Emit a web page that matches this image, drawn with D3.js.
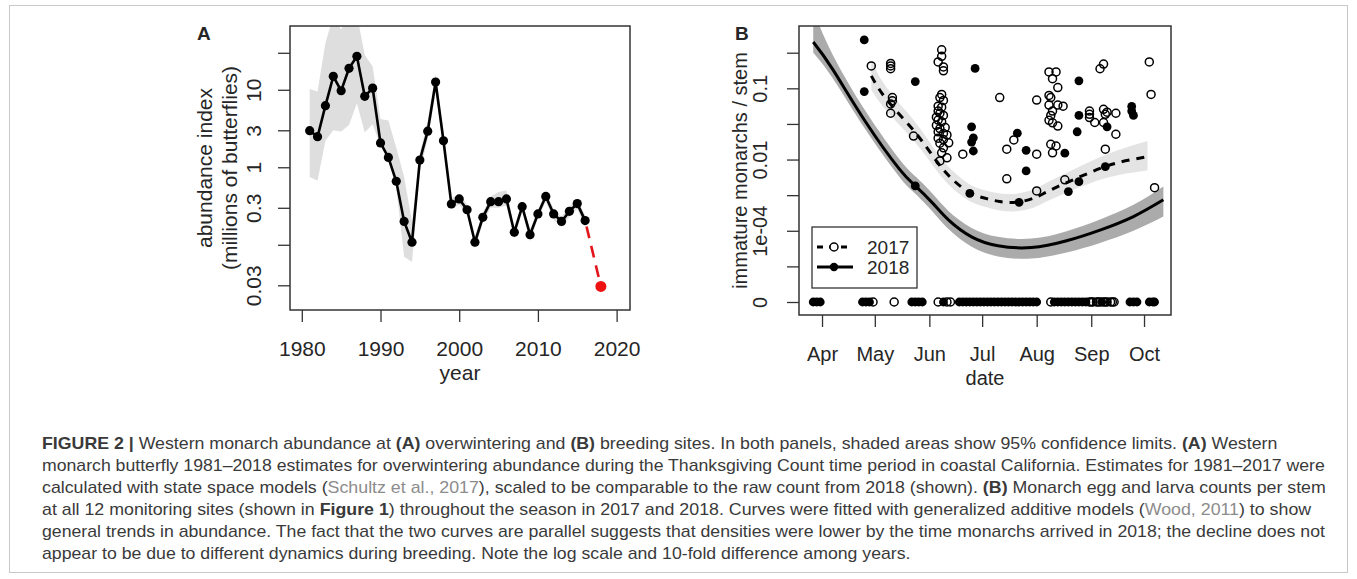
<!DOCTYPE html>
<html>
<head>
<meta charset="utf-8">
<script src="https://cdn.jsdelivr.net/npm/d3@7"></script>
<style>
  body { margin: 0; background: #fff; }
  svg text { font-family: "Liberation Sans", Arial, sans-serif; fill: #262626; }
  .cap { white-space: pre; }
</style>
</head>
<body>
<svg id="fig" width="1357" height="579"></svg>
<script>
// ---------- Panel A: overwintering abundance (millions) ----------
const yearsA = [1981,1982,1983,1984,1985,1986,1987,1988,1989,1990,1991,1992,1993,1994,1995,1996,1997,1998,
  1999,2000,2001,2002,2003,2004,2005,2006,2007,2008,2009,2010,2011,2012,2013,2014,2015,2016];
const abundA = [2.97,2.48,6.24,14.9,9.72,18.9,27.0,8.24,10.5,2.06,1.34,0.66,0.20,0.108,1.24,2.92,12.6,2.2,
  0.336,0.39,0.283,0.108,0.226,0.36,0.36,0.39,0.145,0.31,0.135,0.25,0.42,0.25,0.20,0.27,0.34,0.205];
const hiA = [10.2,9.5,40,90,60,95,95,28,20,4.2,4.0,1.8,0.75,0.2,1.5,4.0,16,2.8,
  0.4,0.45,0.33,0.13,0.26,0.42,0.48,0.5,0.17,0.35,0.16,0.28,0.48,0.29,0.23,0.31,0.39,0.24];
const loA = [0.75,0.67,2.2,3.0,2.9,3.5,6.7,2.8,3.6,1.9,1.2,0.55,0.07,0.06,0.9,2.3,9,1.8,
  0.29,0.33,0.24,0.09,0.19,0.3,0.3,0.32,0.12,0.27,0.11,0.22,0.36,0.21,0.17,0.23,0.29,0.17];
const rawYear = 2018;
const rawCount = 0.029;
const xTicksA = [1980, 1990, 2000, 2010, 2020];
const yTicksA = [0.03, 0.1, 0.3, 1, 3, 10, 30];
const yTickLabelsA = ["0.03", "", "0.3", "1", "3", "10", ""];

// ---------- Panel B: immature monarchs per stem (plotted on the figure's transformed axis) ----------
const yTicksB = [0, 1, 2, 3, 4, 5, 6, 7];
const yTickLabelsB = ["0", "", "1e-04", "", "0.01", "", "0.1", ""];
const monthTicksB = ["04-01", "05-01", "06-01", "07-01", "08-01", "09-01", "10-01"];
const monthLabelsB = ["Apr", "May", "Jun", "Jul", "Aug", "Sep", "Oct"];

const fitDates2018 = ["03-27","04-07","04-26","05-15","05-24","06-03","06-12","06-25","07-10","07-29","08-18","09-06","09-25","10-12"];
const fit2018   = [7.3, 6.54, 5.04, 3.73, 3.26, 2.77, 2.3, 1.83, 1.58, 1.53, 1.72, 2.02, 2.4, 2.87];
const fitHi2018 = [8.2, 6.95, 5.34, 4.01, 3.53, 3.03, 2.55, 2.08, 1.83, 1.78, 1.99, 2.32, 2.73, 3.24];
const fitLo2018 = [7.0, 6.29, 4.82, 3.51, 3.04, 2.53, 2.04, 1.55, 1.28, 1.22, 1.39, 1.66, 2.0, 2.4];

const fitDates2017 = ["04-29","05-08","05-24","06-05","06-14","06-24","07-03","07-11","07-20","07-30","08-10","08-31","09-16","10-03"];
const fit2017   = [6.35, 5.67, 4.76, 3.96, 3.45, 3.07, 2.91, 2.82, 2.8, 2.91, 3.17, 3.63, 3.91, 4.08];
const fitHi2017 = [6.8, 6.0, 5.05, 4.22, 3.7, 3.3, 3.13, 3.05, 3.04, 3.16, 3.43, 3.93, 4.26, 4.52];
const fitLo2017 = [5.95, 5.35, 4.48, 3.7, 3.2, 2.83, 2.67, 2.57, 2.55, 2.65, 2.9, 3.33, 3.56, 3.69];

const obs2017 = [
  ["04-29",6.63],["05-10",6.70],["05-10",6.63],["05-10",6.55],["05-11",5.74],["05-11",5.65],["05-10",5.56],["05-10",5.30],
  ["05-23",4.66],["06-08",7.08],["06-08",6.90],["06-06",6.74],["06-09",6.60],["06-09",6.49],
  ["06-08",5.83],["06-07",5.74],["06-09",5.66],["06-06",5.50],["06-08",5.47],["06-06",5.36],["06-07",5.30],["06-09",5.24],
  ["06-05",5.19],["06-06",5.11],["06-08",5.06],["06-05",4.96],["06-10",4.90],["06-07",4.87],["06-06",4.78],["06-09",4.73],
  ["06-11",4.69],["06-06",4.60],["06-09",4.56],["06-12",4.47],["06-07",4.46],["06-09",4.33],["06-08",4.19],
  ["06-07",3.96],["06-11",4.05],["06-20",4.15],["07-11",5.74],["08-01",5.67],
  ["08-08",6.46],["08-12",6.46],["08-10",6.27],["08-13",6.02],["08-08",5.80],["08-09",5.74],["08-08",5.53],["08-13",5.53],
  ["08-16",5.50],["08-10",5.36],["08-09",5.24],["08-08",5.10],["08-10",5.03],["08-13",4.94],["08-09",4.43],["08-12",4.38],
  ["08-10",4.19],["07-15",4.29],["07-19",4.55],["08-01",4.15],["07-15",3.46],
  ["08-31",5.36],["08-31",5.27],["08-31",5.18],["09-03",5.04],["09-06",6.55],["09-08",6.68],["09-08",5.41],["09-10",5.33],
  ["09-09",5.27],["09-15",5.30],["09-08",5.04],["09-15",4.71],["09-09",4.29],
  ["10-04",6.74],["10-05",5.83],["10-07",3.21],["08-17",3.43],["08-01",3.12]
];
const obs2018 = [
  ["04-25",7.36],["04-25",5.91],["05-24",6.19],["06-27",6.56],["06-25",4.92],["06-26",4.61],["06-25",4.49],["06-26",4.24],
  ["05-24",3.26],["06-24",3.05],["07-22",2.80],["08-19",3.10],["08-25",3.38],["08-25",6.21],["08-25",5.24],["08-24",4.78],
  ["07-21",4.74],["07-26",4.26],["08-17",4.18],["07-26",3.68],["09-10",4.92],["09-24",5.49],["09-25",5.24],["09-24",5.36],
  ["09-09",3.80]
];
// stems with zero eggs/larvae (plotted on the "0" line)
const zeros2017 = ["04-30","05-12","06-06","06-11","06-13","08-09","08-31","09-01","09-02","09-04","09-05","09-06","09-08",
  "09-09","09-10","09-12","09-13","09-14"];
const zeros2018 = ["03-27","03-29","03-31","04-24","04-26","04-28","05-22","05-24","05-26","05-28","06-09",
  "06-18","06-20","06-22","06-24","06-26","06-28","06-30","07-02","07-04","07-06","07-08","07-10","07-12","07-14",
  "07-16","07-18","07-20","07-22","07-24","07-26","07-28","07-30","08-01",
  "08-11","08-13","08-15","08-17","08-19","08-21","08-23","08-25","08-27","08-29","09-07",
  "09-23","09-25","09-27","10-04","10-06","10-07"];

// ---------- Caption ----------
const captionLines = [
  [["FIGURE 2 | ","b"],["Western monarch abundance at ","n"],["(A)","b"],[" overwintering and ","n"],["(B)","b"],
   [" breeding sites. In both panels, shaded areas show 95% confidence limits. ","n"],["(A)","b"],[" Western","n"]],
  [["monarch butterfly 1981–2018 estimates for overwintering abundance during the Thanksgiving Count time period in coastal California. Estimates for 1981–2017 were","n"]],
  [["calculated with state space models (","n"],["Schultz et al., 2017","g"],["), scaled to be comparable to the raw count from 2018 (shown). ","n"],
   ["(B)","b"],[" Monarch egg and larva counts per stem","n"]],
  [["at all 12 monitoring sites (shown in ","n"],["Figure 1","b"],[") throughout the season in 2017 and 2018. Curves were fitted with generalized additive models (","n"],
   ["Wood, 2011","g"],[") to show","n"]],
  [["general trends in abundance. The fact that the two curves are parallel suggests that densities were lower by the time monarchs arrived in 2018; the decline does not","n"]],
  [["appear to be due to different dynamics during breeding. Note the log scale and 10-fold difference among years.","n"]]
];
const captionWidths = [1236, 1284, 1285, 1270, 1284, 869];

// ======================================================================
const svg = d3.select("#fig");
const parseDay = d3.timeParse("%Y-%m-%d");
const day = s => parseDay("2018-" + s);

svg.append("rect").attr("x", 9.5).attr("y", 5.5).attr("width", 1338).attr("height", 567)
  .attr("fill", "none").attr("stroke", "#c8c8c8");

function styleTicks(g) {
  g.select(".domain").remove();
  g.selectAll(".tick line").attr("stroke", "#333").attr("stroke-width", 1.3);
}

// ---------------- Panel A ----------------
const boxA = { l: 290, r: 630, t: 26, b: 310 };
const xA = d3.scaleLinear().domain([1978.5, 2021.7]).range([boxA.l, boxA.r]);
const yA = d3.scaleLog().domain([0.0144, 66.5]).range([boxA.b, boxA.t]);

svg.append("clipPath").attr("id", "clipA").append("rect")
  .attr("x", boxA.l).attr("y", boxA.t).attr("width", boxA.r - boxA.l).attr("height", boxA.b - boxA.t);

const seriesA = yearsA.map((y, i) => ({ year: y, v: abundA[i], hi: hiA[i], lo: loA[i] }));

svg.append("path").datum(seriesA)
  .attr("clip-path", "url(#clipA)")
  .attr("fill", "#dedede")
  .attr("d", d3.area().x(d => xA(d.year)).y0(d => yA(d.lo)).y1(d => yA(d.hi)));

svg.append("path").datum(seriesA)
  .attr("fill", "none").attr("stroke", "#000").attr("stroke-width", 2.6)
  .attr("d", d3.line().x(d => xA(d.year)).y(d => yA(d.v)));

svg.append("g").selectAll("circle").data(seriesA).join("circle")
  .attr("cx", d => xA(d.year)).attr("cy", d => yA(d.v)).attr("r", 4.6).attr("fill", "#000");

const last = seriesA[seriesA.length - 1];
svg.append("line")
  .attr("x1", xA(last.year)).attr("y1", yA(last.v))
  .attr("x2", xA(rawYear)).attr("y2", yA(rawCount))
  .attr("stroke", "#e4141b").attr("stroke-width", 2.6)
  .attr("stroke-dasharray", "12,8").attr("stroke-dashoffset", 14);
svg.append("circle").attr("cx", xA(rawYear)).attr("cy", yA(rawCount)).attr("r", 5.5).attr("fill", "#ee1111");

svg.append("rect").attr("x", boxA.l).attr("y", boxA.t)
  .attr("width", boxA.r - boxA.l).attr("height", boxA.b - boxA.t)
  .attr("fill", "none").attr("stroke", "#333").attr("stroke-width", 1.5);

const fsA = 21;
const axXA = svg.append("g").attr("transform", `translate(0,${boxA.b})`)
  .call(d3.axisBottom(xA).tickValues(xTicksA).tickSize(12).tickSizeOuter(0).tickFormat(d3.format("d")));
styleTicks(axXA);
axXA.selectAll(".tick text").attr("y", 46).attr("dy", null).attr("font-size", fsA).attr("fill", "#262626");

const axYA = svg.append("g").attr("transform", `translate(${boxA.l},0)`)
  .call(d3.axisLeft(yA).tickValues(yTicksA).tickSize(12).tickSizeOuter(0).tickFormat((d, i) => yTickLabelsA[i]));
styleTicks(axYA);
axYA.selectAll(".tick text").attr("x", null).attr("dy", null).attr("text-anchor", "middle")
  .attr("font-size", fsA).attr("fill", "#262626").attr("transform", "translate(-29,0) rotate(-90)");

const midA = (boxA.t + boxA.b) / 2;
svg.append("text").attr("text-anchor", "middle").attr("font-size", fsA)
  .attr("transform", `translate(212,${midA}) rotate(-90)`).text("abundance index");
svg.append("text").attr("text-anchor", "middle").attr("font-size", fsA)
  .attr("transform", `translate(237,${midA}) rotate(-90)`).text("(millions of butterflies)");
svg.append("text").attr("text-anchor", "middle").attr("font-size", fsA)
  .attr("x", (boxA.l + boxA.r) / 2).attr("y", 380).text("year");
svg.append("text").attr("font-size", 19).attr("font-weight", "bold").attr("fill", "#000")
  .attr("x", 197).attr("y", 40).text("A");

// ---------------- Panel B ----------------
const boxB = { l: 799, r: 1171, t: 26, b: 315 };
const xB = d3.scaleTime().domain([new Date(2018, 2, 18, 22), new Date(2018, 9, 16, 8)]).range([boxB.l, boxB.r]);
const yB = d3.scaleLinear().domain([-0.365, 7.75]).range([boxB.b, boxB.t]);

svg.append("clipPath").attr("id", "clipB").append("rect")
  .attr("x", boxB.l).attr("y", boxB.t).attr("width", boxB.r - boxB.l).attr("height", boxB.b - boxB.t);

const fitB = (dates, v, hi, lo) => dates.map((d, i) => ({ date: day(d), v: v[i], hi: hi[i], lo: lo[i] }));
const f2017 = fitB(fitDates2017, fit2017, fitHi2017, fitLo2017);
const f2018 = fitB(fitDates2018, fit2018, fitHi2018, fitLo2018);

const areaB = d3.area().curve(d3.curveNatural).x(d => xB(d.date)).y0(d => yB(d.lo)).y1(d => yB(d.hi));
const lineB = d3.line().curve(d3.curveNatural).x(d => xB(d.date)).y(d => yB(d.v));

const gB = svg.append("g").attr("clip-path", "url(#clipB)");
gB.append("path").datum(f2017).attr("fill", "#e4e4e4").attr("d", areaB);
gB.append("path").datum(f2018).attr("fill", "#ababab").attr("d", areaB);
gB.append("path").datum(f2017).attr("fill", "none").attr("stroke", "#000").attr("stroke-width", 3)
  .attr("stroke-dasharray", "8,7").attr("d", lineB);
gB.append("path").datum(f2018).attr("fill", "none").attr("stroke", "#000").attr("stroke-width", 3).attr("d", lineB);

// zero observations
gB.append("g").selectAll("circle").data(zeros2017).join("circle")
  .attr("cx", d => xB(day(d))).attr("cy", yB(0)).attr("r", 4)
  .attr("fill", "none").attr("stroke", "#000").attr("stroke-width", 1.5);
gB.append("g").selectAll("circle").data(zeros2018).join("circle")
  .attr("cx", d => xB(day(d))).attr("cy", yB(0)).attr("r", 4.4).attr("fill", "#000");

// positive observations
gB.append("g").selectAll("circle").data(obs2017).join("circle")
  .attr("cx", d => xB(day(d[0]))).attr("cy", d => yB(d[1])).attr("r", 4)
  .attr("fill", "none").attr("stroke", "#000").attr("stroke-width", 1.5);
gB.append("g").selectAll("circle").data(obs2018).join("circle")
  .attr("cx", d => xB(day(d[0]))).attr("cy", d => yB(d[1])).attr("r", 4.4).attr("fill", "#000");

svg.append("rect").attr("x", boxB.l).attr("y", boxB.t)
  .attr("width", boxB.r - boxB.l).attr("height", boxB.b - boxB.t)
  .attr("fill", "none").attr("stroke", "#333").attr("stroke-width", 1.5);

const fsB = 20;
const axXB = svg.append("g").attr("transform", `translate(0,${boxB.b})`)
  .call(d3.axisBottom(xB).tickValues(monthTicksB.map(day)).tickSize(12).tickSizeOuter(0)
    .tickFormat((d, i) => monthLabelsB[i]));
styleTicks(axXB);
axXB.selectAll(".tick text").attr("y", 46).attr("dy", null).attr("font-size", fsB).attr("fill", "#262626");

const axYB = svg.append("g").attr("transform", `translate(${boxB.l},0)`)
  .call(d3.axisLeft(yB).tickValues(yTicksB).tickSize(12).tickSizeOuter(0).tickFormat((d, i) => yTickLabelsB[i]));
styleTicks(axYB);
axYB.selectAll(".tick text").attr("x", null).attr("dy", null).attr("text-anchor", "middle")
  .attr("font-size", fsB).attr("fill", "#262626").attr("transform", "translate(-32,0) rotate(-90)");

svg.append("text").attr("text-anchor", "middle").attr("font-size", fsB)
  .attr("transform", `translate(747,${(boxB.t + boxB.b) / 2}) rotate(-90)`).text("immature monarchs / stem");
svg.append("text").attr("text-anchor", "middle").attr("font-size", fsB)
  .attr("x", (boxB.l + boxB.r) / 2).attr("y", 385).text("date");
svg.append("text").attr("font-size", 19).attr("font-weight", "bold").attr("fill", "#000")
  .attr("x", 735).attr("y", 40).text("B");

// legend
const leg = svg.append("g").attr("transform", "translate(812,227)");
leg.append("rect").attr("width", 105).attr("height", 61).attr("fill", "#fff").attr("stroke", "#333").attr("stroke-width", 1.3);
const legItems = [{ label: "2017", dash: "6,6", filled: false, y: 20 }, { label: "2018", dash: null, filled: true, y: 40 }];
legItems.forEach(it => {
  leg.append("line").attr("x1", 5).attr("x2", 41).attr("y1", it.y).attr("y2", it.y)
    .attr("stroke", "#000").attr("stroke-width", 3).attr("stroke-dasharray", it.dash);
  if (it.filled) {
    leg.append("circle").attr("cx", 22).attr("cy", it.y).attr("r", 4.2).attr("fill", "#000");
  } else {
    leg.append("circle").attr("cx", 22).attr("cy", it.y).attr("r", 4).attr("fill", "#fff")
      .attr("stroke", "#000").attr("stroke-width", 1.5);
  }
  leg.append("text").attr("x", 55).attr("y", it.y + 7).attr("font-size", 19).text(it.label);
});

// ---------------- Caption ----------------
captionLines.forEach((segs, i) => {
  const t = svg.append("text").attr("class", "cap").attr("font-size", 16);
  segs.forEach(([s, st]) => {
    t.append("tspan").text(s)
      .attr("font-weight", st === "b" ? "bold" : null)
      .style("fill", st === "g" ? "#8c8c8c" : "#3a3a3a");
  });
  const w = t.node().getComputedTextLength();
  t.attr("transform", `translate(42,${449 + i * 22}) scale(${captionWidths[i] / w},1)`);
});
</script>
</body>
</html>
